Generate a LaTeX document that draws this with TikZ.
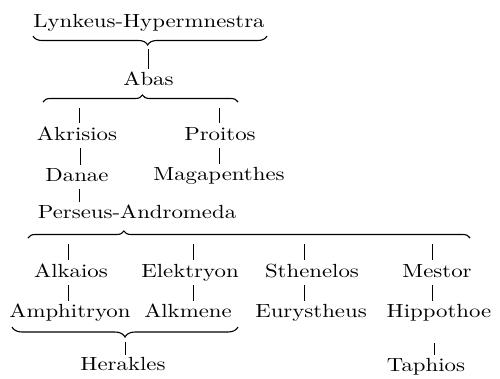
\documentclass[tikz,border=0pt]{standalone}
\usepackage{fontspec}
\setmainfont{lmroman10-regular.otf}[FakeStretch=1.2]
\usepackage{tikz}
\usetikzlibrary{decorations.pathreplacing}

\tikzset{
  person/.style={anchor=base, inner sep=0pt, text height=13pt, text depth=0pt},
  stem/.style={line width=0.6pt, shorten <=8pt, shorten >=3pt},
  drop/.style={line width=0.6pt, shorten <=6pt, shorten >=4pt},
  kin/.style={decorate, line width=1.1pt, decoration={brace, amplitude=7pt, aspect=#1}}
}

\begin{document}
\begin{tikzpicture}[x=1pt, y=-1pt, font=\fontsize{19}{22}\selectfont]
    \useasboundingbox (0,0) rectangle (500,378);

    % generations
    \node[person] (lynkeus) at (149,27) {Lynkeus-Hypermnestra};
    \node[person] (abas) at (148.5,85) {Abas};
    \node[person] (akrisios) at (77,140) {Akrisios};
    \node[person] (proitos) at (220,140) {Proitos};
    \node[person] (danae) at (77,181) {Danae};
    \node[person] (magapenthes) at (219,180) {Magapenthes};
    \node[person] (perseus) at (137,218) {Perseus-Andromeda};
    \node[person] (alkaios) at (71,277) {Alkaios};
    \node[person] (elektryon) at (190,277) {Elektryon};
    \node[person] (sthenelos) at (312,277) {Sthenelos};
    \node[person] (mestor) at (437,277) {Mestor};
    \node[person] (amphitryon) at (70,317) {Amphitryon};
    \node[person] (alkmene) at (188,317) {Alkmene};
    \node[person] (eurystheus) at (311,317) {Eurystheus};
    \node[person] (hippothoe) at (439,317) {Hippothoe};
    \node[person] (herakles) at (123,370) {Herakles};
    \node[person] (taphios) at (426,371) {Taphios};

    % braces
    \draw[kin=0.49, decoration={mirror, amplitude=9pt}] (33,36) -- (267,36);
    \draw[kin=0.51] (43,102) -- (238,102);
    \draw[kin=0.217] (28,238) -- (470,238);
    \draw[kin=0.5, decoration={mirror, amplitude=10pt}] (12,327) -- (238,327);

    \coordinate (tipAbas) at (148,45);
    \coordinate (tipHerakles) at (125,338);
    \coordinate (dropAkrisios) at (79,102);
    \coordinate (dropProitos) at (219,102);
    \coordinate (dropAlkaios) at (68,238);
    \coordinate (dropElektryon) at (193,238);
    \coordinate (dropSthenelos) at (304,238);
    \coordinate (dropMestor) at (432,238);

    % from braces
    \draw[line width=0.6pt, shorten <=4pt, shorten >=3pt] (tipAbas) -- (tipAbas |- abas.north);
    \draw[line width=0.6pt, shorten <=4pt, shorten >=2pt] (tipHerakles) -- (tipHerakles |- herakles.north);
    \draw[drop] (dropAkrisios) -- (dropAkrisios |- akrisios.north);
    \draw[drop] (dropProitos) -- (dropProitos |- proitos.north);
    \draw[drop] (dropAlkaios) -- (dropAlkaios |- alkaios.north);
    \draw[drop] (dropElektryon) -- (dropElektryon |- elektryon.north);
    \draw[drop] (dropSthenelos) -- (dropSthenelos |- sthenelos.north);
    \draw[drop] (dropMestor) -- (dropMestor |- mestor.north);

    % parent to child
    \draw[stem] ([xshift=3pt]akrisios.south) -- ([xshift=3pt]danae.north);
    \draw[stem] ([xshift=-1pt]proitos.south) -- (magapenthes.north);
    \draw[stem] ([xshift=2pt]danae.south) -- ([xshift=-58pt]perseus.north);
    \draw[stem] ([xshift=-3pt]alkaios.south) -- ([xshift=-2pt]amphitryon.north);
    \draw[stem] ([xshift=3pt]elektryon.south) -- ([xshift=5pt]alkmene.north);
    \draw[stem] ([xshift=-8pt]sthenelos.south) -- ([xshift=-7pt]eurystheus.north);
    \draw[stem] ([xshift=-5pt]mestor.south) -- ([xshift=-7pt]hippothoe.north);
    \draw[stem, shorten <=26pt] ([xshift=-5pt]hippothoe.south) -- ([xshift=8pt]taphios.north);
\end{tikzpicture}
\end{document}
